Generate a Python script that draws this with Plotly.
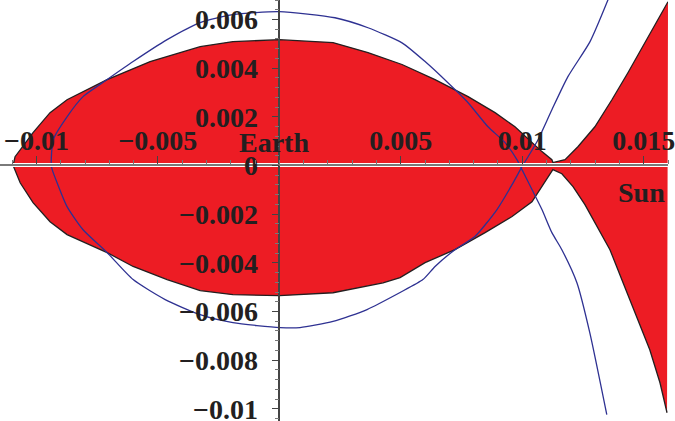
import plotly.graph_objects as go

# ---- data ----
# upper boundary of the central (Earth) region: left tip -> neck
upper_x = [-0.01096, -0.01088, -0.01014, -0.00944, -0.00874, -0.00709, -0.00532, -0.00326,
           -0.00191, 0.0, 0.00221, 0.00365, 0.00505, 0.00641, 0.00777, 0.00888, 0.00970,
           0.01040, 0.01081, 0.01122, 0.01126]
upper_y = [0.0, 0.00036, 0.00135, 0.00217, 0.00270, 0.00353, 0.00427, 0.00488,
           0.00509, 0.00517, 0.00505, 0.00464, 0.00415, 0.00353, 0.00283, 0.00217, 0.00159,
           0.00094, 0.00057, 0.00024, 0.00012]
# boundary from the neck up toward the Sun side (top right)
upright_x = [0.01126, 0.01176, 0.01229, 0.01299, 0.01369, 0.01435, 0.01505, 0.01559, 0.01600]
upright_y = [0.00012, 0.00024, 0.00077, 0.00159, 0.00270, 0.00381, 0.00505, 0.00599, 0.00673]
# lower boundary of the central region: left tip -> neck
lower_x = [-0.01096, -0.01067, -0.01014, -0.00944, -0.00874, -0.00709, -0.00602, -0.00462,
           -0.00326, -0.00191, 0.0, 0.00221, 0.00427, 0.00497, 0.00600, 0.00723, 0.00847,
           0.00958, 0.01040, 0.01081, 0.01106, 0.01126]
lower_y = [0.0, -0.00071, -0.00153, -0.00231, -0.00284, -0.00358, -0.00415, -0.00469,
           -0.00514, -0.00531, -0.00535, -0.00523, -0.00482, -0.00461, -0.00399, -0.00346, -0.00276,
           -0.00210, -0.00149, -0.00087, -0.00046, -0.00017]
# boundary from the neck down toward the bottom right
lowright_x = [0.01126, 0.01163, 0.01209, 0.01258, 0.01307, 0.01361, 0.01415, 0.01472,
              0.01525, 0.01567, 0.01596]
lowright_y = [-0.00017, -0.00034, -0.00087, -0.00161, -0.00251, -0.00346, -0.00482, -0.00621,
              -0.00757, -0.00893, -0.01016]
# orbit (blue)
orbit_x = [0.01353, 0.01279, 0.01188, 0.01122, 0.01065, 0.01024, 0.00999, 0.00958, 0.00896,
           0.00805, 0.00723, 0.00641, 0.00591, 0.00497, 0.00361, 0.00221, 0.00085, 0.00003,
           -0.00191, -0.00326, -0.00470, -0.00602, -0.00709, -0.00808, -0.00874, -0.00915,
           -0.00935, -0.00939, -0.00931, -0.00874, -0.00808, -0.00709, -0.00602, -0.00462,
           -0.00326, -0.00191, 0.0, 0.00229, 0.00365, 0.00505, 0.00600, 0.00694, 0.00777,
           0.00859, 0.00929, 0.00978, 0.00999, 0.01040, 0.01081, 0.01122, 0.01163, 0.01225,
           0.01278, 0.01348]
orbit_y = [0.00681, 0.00509, 0.00365, 0.00229, 0.00106, 0.00036, -0.00005, -0.00079, -0.00181,
           -0.00292, -0.00346, -0.00415, -0.00469, -0.00522, -0.00592, -0.00641, -0.00666, -0.00666,
           -0.00646, -0.00613, -0.00551, -0.00469, -0.00358, -0.00264, -0.00169, -0.00071,
           -0.00017, 0.00003, 0.00106, 0.00200, 0.00283, 0.00353, 0.00427, 0.00517,
           0.00587, 0.00620, 0.00632, 0.00607, 0.00566, 0.00504, 0.00427, 0.00340, 0.00258,
           0.00159, 0.00094, 0.00024, -0.00017, -0.00099, -0.00181, -0.00276, -0.00346, -0.00482,
           -0.00687, -0.01024]

x_range = [-0.0115, 0.0160]
y_range = [-0.0105, 0.0068]
x_ticks = [-0.01, -0.005, 0.005, 0.01, 0.015]
x_ticktext = ["\u22120.01", "\u22120.005", "0.005", "0.01", "0.015"]
y_ticks = [-0.01, -0.008, -0.006, -0.004, -0.002, 0.0, 0.002, 0.004, 0.006]
y_ticktext = ["\u22120.01", "\u22120.008", "\u22120.006", "\u22120.004", "\u22120.002", "0",
              "0.002", "0.004", "0.006"]
labels = ["Earth", "Sun"]
label_x = [-0.0002, 0.0149]
label_y = [0.00093, -0.0011]

RED = "#ED1C24"
EDGE = "#231F20"
BLUE = "#2E3192"
TXT = "#231F20"
FONT = "Liberation Serif"

# closed region polygon
poly_x = upper_x + upright_x[1:] + list(reversed(lowright_x)) + list(reversed(lower_x))[1:]
poly_y = upper_y + upright_y[1:] + list(reversed(lowright_y)) + list(reversed(lower_y))[1:]

fig = go.Figure()
fig.add_trace(go.Scatter(x=poly_x, y=poly_y, mode="lines", fill="toself",
                         fillcolor=RED, line=dict(width=0), hoverinfo="skip"))
fig.add_trace(go.Scatter(x=upper_x + upright_x[1:], y=upper_y + upright_y[1:], mode="lines",
                         line=dict(color=EDGE, width=1.3), hoverinfo="skip"))
fig.add_trace(go.Scatter(x=lower_x + lowright_x[1:], y=lower_y + lowright_y[1:], mode="lines",
                         line=dict(color=EDGE, width=1.3), hoverinfo="skip"))
fig.add_trace(go.Scatter(x=orbit_x, y=orbit_y, mode="lines", xaxis="x2",
                         line=dict(color=BLUE, width=1.3, shape="spline", smoothing=0.6),
                         hoverinfo="skip"))

xpos = (0 - y_range[0]) / (y_range[1] - y_range[0])
ypos = (0 - x_range[0]) / (x_range[1] - x_range[0])

tickfont = dict(family=FONT, size=28, color=TXT, weight="bold")

fig.update_layout(
    width=675, height=421, autosize=False,
    margin=dict(l=0, r=7, t=0, b=0, pad=0, autoexpand=False),
    paper_bgcolor="white", plot_bgcolor="white",
    showlegend=False,
    # main x axis: white halo line + tick labels (no tick marks)
    xaxis=dict(range=x_range, anchor="free", position=xpos, side="top",
               showgrid=False, zeroline=False,
               showline=True, linecolor="white", linewidth=4,
               tickmode="array", tickvals=x_ticks, ticktext=x_ticktext,
               ticks="", tickfont=tickfont, ticklabelstandoff=2,
               ticklabeloverflow="allow",
               layer="above traces", automargin=False),
    # overlay x axis: grey axis line with major/minor tick marks
    xaxis2=dict(range=x_range, overlaying="x", anchor="free", position=xpos, side="top",
                showgrid=False, zeroline=False, showline=True, linecolor="#7A7A7A",
                linewidth=2, tickmode="array", tickvals=x_ticks, showticklabels=False,
                ticks="outside", ticklen=8, tickwidth=1.3, tickcolor="#444444",
                layer="above traces", automargin=False,
                minor=dict(tickmode="linear", tick0=0, dtick=0.001, ticks="outside",
                           ticklen=4, tickwidth=1, tickcolor="#777777")),
    yaxis=dict(range=y_range, anchor="free", position=ypos, side="left",
               showgrid=False, zeroline=False, showline=True, linecolor="#444444",
               linewidth=1.6, tickmode="array", tickvals=y_ticks, ticktext=y_ticktext,
               ticks="outside", ticklen=7, tickwidth=1.3, tickcolor="#444444",
               tickfont=tickfont, ticklabelstandoff=8, ticklabeloverflow="allow",
               layer="above traces", automargin=False,
               minor=dict(tickmode="linear", tick0=0, dtick=0.0004, ticks="outside",
                          ticklen=4, tickwidth=1, tickcolor="#777777")),
)

for t, lx, ly in zip(labels, label_x, label_y):
    fig.add_annotation(x=lx, y=ly, text=t, showarrow=False, xanchor="center", yanchor="middle",
                       font=dict(family=FONT, size=28, color=TXT, weight="bold"))

fig.write_html("out.html", config={"displayModeBar": False},
               post_script="document.body.style.margin='0';")
